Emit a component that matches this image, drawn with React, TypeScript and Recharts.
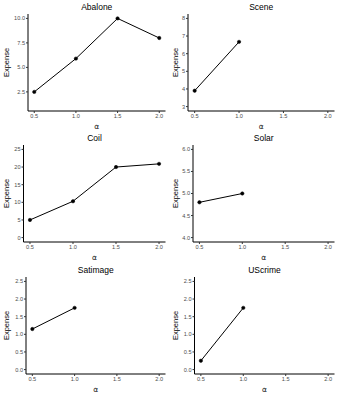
import React from 'react';
import { LineChart, Line, XAxis, YAxis } from 'recharts';

const alphas = [0.5, 1.0, 1.5, 2.0];
const abaloneExpense = [2.5, 5.9, 10.0, 8.0];
const sceneExpense = [3.9, 6.67];
const coilExpense = [5.0, 10.3, 20.0, 20.9];
const solarExpense = [4.8, 5.0];
const satimageExpense = [1.15, 1.75];
const uscrimeExpense = [0.25, 1.75];

const abaloneTicks = [2.5, 5.0, 7.5, 10.0];
const sceneTicks = [3, 4, 5, 6, 7, 8];
const coilTicks = [0, 5, 10, 15, 20, 25];
const solarTicks = [4.0, 4.5, 5.0, 5.5, 6.0];
const satimageTicks = [0.0, 0.5, 1.0, 1.5, 2.0, 2.5];
const uscrimeTicks = [0.0, 0.5, 1.0, 1.5, 2.0, 2.5];

const abaloneLimits = [1, 10];
const sceneLimits = [3, 8];
const coilLimits = [0, 25];
const solarLimits = [4, 6];
const satimageLimits = [0, 2.5];
const uscrimeLimits = [0, 2.5];

const W = 169;
const H = 131;
const TOP = 14;
const RIGHT = 3.5;
const XH = 20;
const FONT = 'Liberation Sans, Arial, Helvetica, sans-serif';

type PanelProps = {
  title: string;
  values: number[];
  ticks: number[];
  limits: number[];
  decimals: number;
  left: number;
  x: number;
  y: number;
};

function expandDomain(limits: number[]): [number, number] {
  const lo = limits[0];
  const hi = limits[1];
  const pad = (hi - lo) * 0.05;
  return [lo - pad, hi + pad];
}

function Panel({ title, values, ticks, limits, decimals, left, x, y }: PanelProps) {
  const data = values.map((v, i) => ({ alpha: alphas[i], expense: v }));
  const plotCenter = (left + (W - RIGHT)) / 2;
  const plotMidY = TOP + (H - TOP - XH) / 2;
  return (
    <div style={{ position: 'absolute', left: x, top: y, width: W, height: H }}>
      <LineChart width={W} height={H} data={data} margin={{ top: TOP, right: RIGHT, left: 0, bottom: 0 }}>
        <text x={plotCenter} y={6.5} textAnchor="middle" dominantBaseline="central" fontSize={8.5} fontFamily={FONT} fill="#000">
          {title}
        </text>
        <text
          x={6.5}
          y={plotMidY}
          textAnchor="middle"
          dominantBaseline="central"
          fontSize={7.5}
          fontFamily={FONT}
          fill="#000"
          transform={`rotate(-90 6.5 ${plotMidY})`}
        >
          Expense
        </text>
        <text x={plotCenter} y={126} textAnchor="middle" dominantBaseline="central" fontSize={7.5} fontFamily="DejaVu Sans, sans-serif" fill="#222">
          α
        </text>
        <XAxis
          dataKey="alpha"
          type="number"
          domain={[0.425, 2.075]}
          ticks={alphas}
          allowDataOverflow
          tickFormatter={(v: number) => v.toFixed(1)}
          height={XH}
          tickSize={2}
          tickMargin={1}
          tick={{ fontSize: 5.6, fill: '#4d4d4d', fontFamily: FONT }}
          axisLine={{ stroke: '#000', strokeWidth: 1 }}
          tickLine={{ stroke: '#333' }}
        />
        <YAxis
          type="number"
          domain={expandDomain(limits)}
          ticks={ticks}
          allowDataOverflow
          interval={0}
          tickFormatter={(v: number) => v.toFixed(decimals)}
          width={left}
          tickSize={2}
          tickMargin={1}
          tick={{ fontSize: 5.6, fill: '#4d4d4d', fontFamily: FONT }}
          axisLine={{ stroke: '#000', strokeWidth: 1 }}
          tickLine={{ stroke: '#333' }}
        />
        <Line
          type="linear"
          dataKey="expense"
          stroke="#000"
          strokeWidth={1}
          dot={{ r: 1.7, fill: '#000', stroke: '#000', strokeWidth: 0.5 }}
          isAnimationActive={false}
        />
      </LineChart>
    </div>
  );
}

export default function App() {
  const rowH = 394 / 3;
  return (
    <div style={{ position: 'absolute', left: 0, top: 0, width: 338, height: 394, background: '#fff' }}>
      <Panel title="Abalone" values={abaloneExpense} ticks={abaloneTicks} limits={abaloneLimits} decimals={1} left={28} x={0} y={0} />
      <Panel title="Scene" values={sceneExpense} ticks={sceneTicks} limits={sceneLimits} decimals={0} left={19} x={169} y={0} />
      <Panel title="Coil" values={coilExpense} ticks={coilTicks} limits={coilLimits} decimals={0} left={23.5} x={0} y={rowH} />
      <Panel title="Solar" values={solarExpense} ticks={solarTicks} limits={solarLimits} decimals={1} left={24} x={169} y={rowH} />
      <Panel title="Satimage" values={satimageExpense} ticks={satimageTicks} limits={satimageLimits} decimals={1} left={26} x={0} y={rowH * 2} />
      <Panel title="UScrime" values={uscrimeExpense} ticks={uscrimeTicks} limits={uscrimeLimits} decimals={1} left={25.5} x={169} y={rowH * 2} />
    </div>
  );
}
